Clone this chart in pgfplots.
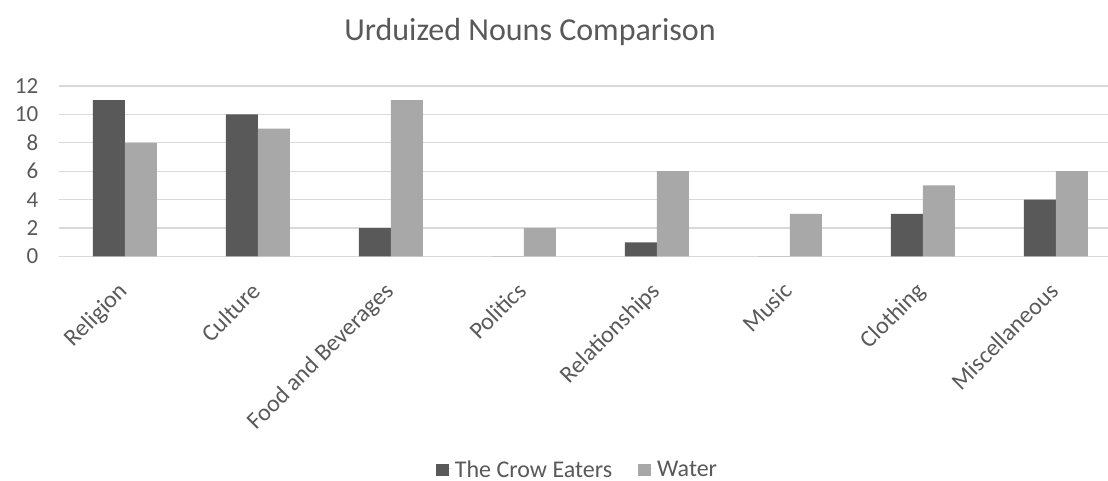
\documentclass[border=0pt]{standalone}
\usepackage{pgfplots}
\pgfplotsset{compat=1.18}
\usepackage{fontspec}
\setmainfont{Carlito}
\definecolor{darkbar}{HTML}{595959}
\definecolor{lightbar}{HTML}{A8A8A8}
\definecolor{gridc}{HTML}{D9D9D9}
\definecolor{txt}{HTML}{595959}
\begin{document}
\begin{tikzpicture}[x=1pt,y=1pt]
\path[use as bounding box, clip] (0,0) rectangle (1108,481);
\begin{axis}[
  at={(58.5pt,224.5pt)}, anchor=south west,
  scale only axis, width=1064pt, height=170.5pt,
  xmin=-0.5, xmax=7.5, ymin=0, ymax=12,
  ybar=0pt, bar width=32pt,
  axis line style={draw=none},
  axis x line*=bottom,
  ytick={0,2,...,12},
  xtick=data,
  xticklabels={Religion,Culture,Food and Beverages,Politics,Relationships,Music,Clothing,Miscellaneous},
  major tick length=0pt,
  ymajorgrids, grid style={gridc, line width=1.3pt},
  /pgf/number format/assume math mode=true,
  yticklabel style={font=\fontsize{23}{27}\selectfont, text=txt, inner sep=0pt, xshift=-20pt},
  xticklabel style={font=\fontsize{24}{28}\selectfont, text=txt, inner sep=0pt, xshift=-8pt, yshift=-24pt, rotate=45, anchor=north east},
  legend style={at={(0.4878,-1.245)}, anchor=center, draw=none, fill=none, legend columns=2,
    font=\fontsize{24}{28}\selectfont, text=txt, inner sep=0pt,
    nodes={text depth=0pt},
    /tikz/every even column/.append style={column sep=24pt}},
  legend image code/.code={\fill[#1] (0pt,-7pt) rectangle (13pt,5pt); \path (0pt,0pt) -- (17pt,0pt);},
]
\addplot[fill=darkbar, draw=none] coordinates {(0,11) (1,10) (2,2) (3,0) (4,1) (5,0) (6,3) (7,4)};
\addplot[fill=lightbar, draw=none] coordinates {(0,8) (1,9) (2,11) (3,2) (4,6) (5,3) (6,5) (7,6)};
\legend{The Crow Eaters, Water}
\end{axis}
\node[font=\fontsize{32}{38}\selectfont, text=txt, anchor=base] at (530,440) {Urduized Nouns Comparison};
\end{tikzpicture}
\end{document}
